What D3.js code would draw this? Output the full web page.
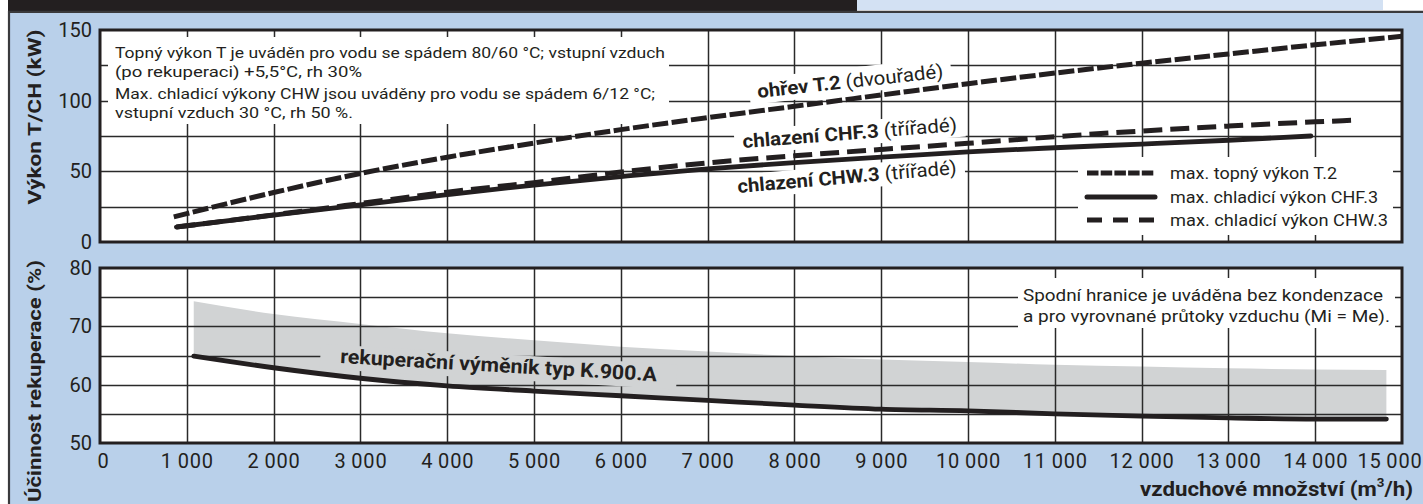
<!DOCTYPE html>
<html><head><meta charset="utf-8">
<script src="https://cdn.jsdelivr.net/npm/d3@7"></script>
<style>
body{margin:0;background:#fff;}
svg{display:block;font-family:Roboto,'Liberation Sans',Arial,sans-serif;}
</style>
</head><body>
<svg id="c" width="1423" height="504"></svg>
<script>
// ---------------- data ----------------
const airflowTicks = [0,1000,2000,3000,4000,5000,6000,7000,8000,9000,10000,11000,12000,13000,14000,15000];
const powerTicks = [0,50,100,150];
const powerGrid = [25,50,75,100,125];
const effTicks = [50,60,70,80];
const effGrid = [55,60,65,70,75];

// max. topný výkon T.2 (kW)
const heatX  = [850,1000,2000,3000,4000,5000,6000,7000,8000,9000,10000,11000,12000,13000,14000,15000];
const heatKW = [17.8,20.1,35,48.5,60,70,79.5,88,96,104,112,119.5,126.5,133,139.5,145.5];

// max. chladicí výkon CHF.3 (kW) – solid
const chfX  = [880,1000,2000,3000,4000,5000,6000,7000,8000,9000,10000,11000,12000,13000,13950];
const chfKW = [10.6,11.5,19.0,26.3,33.5,40.3,46.3,51.8,56.2,60,63.8,66.7,69.3,72,75];

// max. chladicí výkon CHW.3 (kW) – dashed
const chwX  = [880,1000,2000,3000,4000,5000,6000,7000,8000,9000,10000,11000,12000,13000,14000,14500];
const chwKW = [10.6,11.5,19.2,27.2,35.3,42,49.5,56,61,65.5,69.8,74.5,78.5,82,85,86.3];

// účinnost rekuperace (%) – K.900.A
const hrX     = [1080,2000,3000,4000,5000,6000,7000,8000,9000,10000,11000,12000,13000,14000,14820];
const hrLower = [64.9,62.9,61.1,59.8,58.9,58.1,57.3,56.5,55.8,55.5,55.0,54.6,54.3,54.1,54.1];
const hrUpper = [74.3,72.1,70.4,68.8,67.6,66.5,65.7,64.9,64.3,63.9,63.4,63.1,62.8,62.6,62.5];

const noteTop = [
  "Topný výkon T je uváděn pro vodu se spádem 80/60 °C; vstupní vzduch",
  "(po rekuperaci) +5,5°C, rh 30%",
  "Max. chladicí výkony CHW jsou uváděny pro vodu se spádem 6/12 °C;",
  "vstupní vzduch 30 °C, rh 50 %."
];
const noteBottom = [
  "Spodní hranice je uváděna bez kondenzace",
  "a pro vyrovnané průtoky vzduchu (Mi = Me)."
];
const legendLabels = ["max. topný výkon T.2","max. chladicí výkon CHF.3","max. chladicí výkon CHW.3"];

// ---------------- drawing ----------------
const W = 1423, H = 504, INK = '#231f20', GRID = '#2a2a2a';
const svg = d3.select('#c');
const x  = d3.scaleLinear().domain([0,15000]).range([100,1402]);
const yT = d3.scaleLinear().domain([0,150]).range([242,30]);
const yB = d3.scaleLinear().domain([50,80]).range([443,268]);

// page background
svg.append('rect').attr('width',W).attr('height',H).attr('fill','#fff');
svg.append('rect').attr('x',8).attr('y',0).attr('width',849).attr('height',12).attr('fill',INK);
svg.append('rect').attr('x',857).attr('y',0).attr('width',526).attr('height',10).attr('fill','#d3e1f3');
svg.append('rect').attr('x',8).attr('y',11).attr('width',W-8).attr('height',H-11).attr('fill','#b9d0ea');
svg.append('path').attr('d','M9,504V11.8H1423').attr('stroke','#3a3a3c').attr('stroke-width',2.2).attr('fill','none');

// panel backgrounds
[yT,yB].forEach(y=>{
  const r = y.range();
  svg.append('rect').attr('x',x(0)).attr('y',r[1]).attr('width',x(15000)-x(0)).attr('height',r[0]-r[1]).attr('fill','#ffffff');
});

// heat-recovery band
const area = d3.area().x(d=>x(d[0])).y0(d=>yB(d[1])).y1(d=>yB(d[2])).curve(d3.curveMonotoneX);
svg.append('path').datum(d3.zip(hrX,hrLower,hrUpper)).attr('d',area).attr('fill','#d1d3d4');

// grids (drawn with d3 axes on pixel-rounded copies of the scales)
const xR = x.copy().interpolate(d3.interpolateRound);
function grid(y, gridVals){
  const yR = y.copy().interpolate(d3.interpolateRound);
  const r = y.range(), yb = r[0], yt = r[1];
  const gv = svg.append('g')
    .attr('transform',`translate(0,${yb})`)
    .call(d3.axisBottom(xR).tickValues(airflowTicks.slice(1,-1)).tickSize(-(yb-yt)).tickFormat(''));
  const gh = svg.append('g')
    .attr('transform',`translate(${x(0)},0)`)
    .call(d3.axisLeft(yR).tickValues(gridVals).tickSize(-(x(15000)-x(0))).tickFormat(''));
  [gv,gh].forEach(g=>{
    g.select('.domain').remove();
    g.selectAll('.tick line').attr('stroke',GRID).attr('stroke-width',1.5);
  });
}
grid(yT, powerGrid);
grid(yB, effGrid);

// white boxes
function box(x0,y0,x1,y1,fill){ svg.append('rect').attr('x',x0).attr('y',y0).attr('width',x1-x0).attr('height',y1-y0).attr('fill',fill||'#fff'); }
box(108,37,669,124);
box(1078,157,1393,235);
box(1018,278,1395,328);

// rotated labels
function curveLabel(px,py,angle,parts,size,len,bg,padX,top,bottom){
  const g = svg.append('g').attr('transform',`translate(${px},${py}) rotate(${angle})`);
  const r = g.append('rect');
  const t = g.append('text').attr('font-size',size).attr('fill',INK)
    .attr('textLength',len).attr('lengthAdjust','spacingAndGlyphs');
  parts.forEach(p=>t.append('tspan').attr('font-weight',p[1]).text(p[0]));
  r.attr('x',-padX).attr('y',-top).attr('width',len+2*padX).attr('height',top+bottom).attr('fill',bg);
}
curveLabel(758,98,-6.3,[["ohřev T.2 ",700],["(dvouřadé)",400]],19,187,'#fff',8,20,6);
curveLabel(743,148,-4.5,[["chlazení CHF.3 ",700],["(třířadé)",400]],19,215,'#fff',8,18,6);
curveLabel(738,193,-5,[["chlazení CHW.3 ",700],["(třířadé)",400]],19,220,'#fff',8,18,6);
curveLabel(340,363,3.3,[["rekuperační výměník typ K.900.A",700]],20,317,'#d1d3d4',20,18,7);

// curves
const lineT = d3.line().x(d=>x(d[0])).y(d=>yT(d[1])).curve(d3.curveMonotoneX);
const lineB = d3.line().x(d=>x(d[0])).y(d=>yB(d[1])).curve(d3.curveMonotoneX);
svg.append('path').datum(d3.zip(chfX,chfKW)).attr('d',lineT)
  .attr('fill','none').attr('stroke',INK).attr('stroke-width',4.8).attr('stroke-linecap','round');
svg.append('path').datum(d3.zip(chwX,chwKW)).attr('d',lineT)
  .attr('fill','none').attr('stroke',INK).attr('stroke-width',5).attr('stroke-linecap','butt')
  .attr('stroke-dasharray','19,8');
svg.append('path').datum(d3.zip(heatX,heatKW)).attr('d',lineT)
  .attr('fill','none').attr('stroke',INK).attr('stroke-width',5).attr('stroke-linecap','butt')
  .attr('stroke-dasharray','16,3.5');
svg.append('path').datum(d3.zip(hrX,hrLower)).attr('d',lineB)
  .attr('fill','none').attr('stroke',INK).attr('stroke-width',4.8).attr('stroke-linecap','round');

// notes
const tn = svg.append('g').attr('font-size',15.5).attr('fill',INK);
const topY=[57.5,77,98.5,118], topLen=[550,247,540,238];
noteTop.forEach((s,i)=>tn.append('text').attr('x',115).attr('y',topY[i]).attr('textLength',topLen[i]).attr('lengthAdjust','spacingAndGlyphs').text(s));
const bn = svg.append('g').attr('font-size',16).attr('fill',INK);
const botY=[301,321.5], botLen=[360,367];
noteBottom.forEach((s,i)=>bn.append('text').attr('x',1023).attr('y',botY[i]).attr('textLength',botLen[i]).attr('lengthAdjust','spacingAndGlyphs').text(s));

// legend
const legY=[173,197,220];
const legStyles=[{w:4.8,d:'11.5,2.2'},{w:5,d:null},{w:5,d:'15,11'}];
legendLabels.forEach((s,i)=>{
  const p = svg.append('line').attr('x1',1087).attr('x2',1155).attr('y1',legY[i]).attr('y2',legY[i])
    .attr('stroke',INK).attr('stroke-width',legStyles[i].w).attr('stroke-linecap', legStyles[i].d ? 'butt' : 'round');
  if(legStyles[i].d) p.attr('stroke-dasharray',legStyles[i].d);
  svg.append('text').attr('x',1170).attr('y',legY[i]+5.5).attr('font-size',16).attr('fill',INK)
    .attr('textLength',[167,208,218][i]).attr('lengthAdjust','spacingAndGlyphs').text(s);
});

// borders
[yT,yB].forEach(y=>{
  const r = y.range();
  svg.append('rect').attr('x',x(0)).attr('y',r[1]).attr('width',x(15000)-x(0)).attr('height',r[0]-r[1])
    .attr('fill','none').attr('stroke',INK).attr('stroke-width',3);
});

// axes
function styleAxis(g){
  g.select('.domain').remove();
  g.selectAll('text').attr('font-size',20).attr('fill',INK).attr('font-family',"Roboto,'Liberation Sans',Arial,sans-serif");
}
svg.append('g').attr('transform',`translate(${x(0)},0)`)
  .call(d3.axisLeft(yT).tickValues(powerTicks).tickSize(0).tickPadding(8).tickFormat(d3.format('d'))).call(styleAxis);
svg.append('g').attr('transform',`translate(${x(0)},0)`)
  .call(d3.axisLeft(yB).tickValues(effTicks).tickSize(0).tickPadding(8).tickFormat(d3.format('d'))).call(styleAxis);
const fmt = v => v===0 ? '0' : d3.format(',')(v).replace(',', '\u2009');
const xa = svg.append('g').attr('transform',`translate(0,${yB.range()[0]})`)
  .call(d3.axisBottom(x).tickValues(airflowTicks).tickSize(0).tickPadding(11).tickFormat(fmt)).call(styleAxis);
xa.selectAll('text').attr('letter-spacing',0.8);
xa.selectAll('.tick').filter(d=>d===15000).select('text').attr('text-anchor','end').attr('x',20);
xa.selectAll('.tick').filter(d=>d===0).select('text').attr('x',3);

// axis titles
svg.append('text').attr('transform','translate(41,117) rotate(-90)').attr('text-anchor','middle')
  .attr('font-size',18).attr('font-weight',700).attr('fill',INK)
  .attr('textLength',175).attr('lengthAdjust','spacingAndGlyphs').text('Výkon T/CH (kW)');
svg.append('text').attr('transform','translate(41,381) rotate(-90)').attr('text-anchor','middle')
  .attr('font-size',18).attr('font-weight',700).attr('fill',INK)
  .attr('textLength',242).attr('lengthAdjust','spacingAndGlyphs').text('Účinnost rekuperace (%)');
const xt = svg.append('text').attr('x',1140).attr('y',496)
  .attr('font-size',20).attr('font-weight',700).attr('fill',INK)
  .attr('textLength',273).attr('lengthAdjust','spacingAndGlyphs');
xt.append('tspan').text('vzduchové množství (m');
xt.append('tspan').attr('font-size',12).attr('dy',-9).text('3');
xt.append('tspan').attr('dy',9).text('/h)');
</script>
</body></html>
